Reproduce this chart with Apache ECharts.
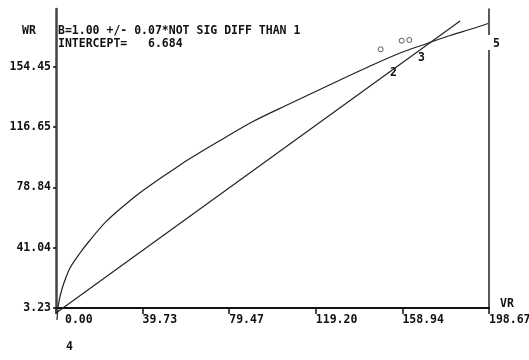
<!DOCTYPE html>
<html>
<head>
<meta charset="utf-8">
<script src="https://cdn.jsdelivr.net/npm/echarts@6/dist/echarts.min.js"></script>
<style>
html,body{margin:0;padding:0;background:#fff;}
#chart{width:529px;height:360px;}
</style>
</head>
<body>
<div id="chart"></div>
<script>
// ---- data ----
var xTickLabels = ['0.00', '39.73', '79.47', '119.20', '158.94', '198.67'];
var yTickLabels = ['3.23', '41.04', '78.84', '116.65', '154.45'];
var curveX = [0.46, 0.92, 1.61, 2.75, 4.13, 6.42, 10.69, 15.28, 22.94, 30.60, 38.22, 45.42, 53.54, 59.65, 75.25, 90.39, 105.53, 130.30, 142.69, 157.83, 170.22, 180.78, 191.33, 198.21];
var curveY = [-4.30, 3.23, 8.88, 15.15, 20.80, 28.33, 37.11, 45.27, 57.38, 66.79, 75.20, 82.29, 89.82, 95.47, 108.33, 120.25, 130.29, 146.29, 154.13, 163.24, 169.19, 174.21, 178.61, 181.75];
var fitX = [0, 185.4];
var fitY = [0.15, 183.3];
var obsX = [148.97, 158.61, 162.10];
var obsY = [165.56, 170.96, 171.40];
var titleLines = ['B=1.00 +/- 0.07*NOT SIG DIFF THAN 1', 'INTERCEPT=   6.684'];

function zip(a, b) { return a.map(function (v, i) { return [v, b[i]]; }); }
var xTickVals = xTickLabels.map(parseFloat);
var yTickVals = yTickLabels.map(parseFloat);

var FONT = 'DejaVu Sans Mono';
var TXT = 'bold 11.5px "DejaVu Sans Mono"';
var chart = echarts.init(document.getElementById('chart'));
chart.setOption({
  animation: false,
  backgroundColor: '#fff',
  title: {
    text: titleLines.join('\n'),
    left: 58, top: 25, padding: 0,
    textStyle: { fontFamily: FONT, fontSize: 11.5, fontWeight: 'bold', color: '#111', lineHeight: 13 }
  },
  grid: { left: 56, right: 40, top: 9, bottom: 52, containLabel: false, outerBoundsMode: 'none' },
  xAxis: {
    type: 'value', min: 0, max: 198.67,
    axisLine: { show: true, lineStyle: { color: '#111', width: 2 } },
    axisTick: { show: true, inside: false, length: 6, customValues: xTickVals, lineStyle: { color: '#111', width: 1.5 } },
    axisLabel: {
      show: true, customValues: xTickVals, margin: 6, align: 'left', hideOverlap: false,
      fontFamily: FONT, fontSize: 11.5, fontWeight: 'bold', color: '#111',
      formatter: function (v) {
        var i = xTickVals.indexOf(v);
        var s = i >= 0 ? xTickLabels[i] : '';
        return i === 0 ? '{p|' + s + '}' : s;
      },
      rich: { p: { fontFamily: FONT, fontSize: 11.5, fontWeight: 'bold', color: '#111', padding: [0, 0, 0, 9] } }
    },
    splitLine: { show: false }
  },
  yAxis: [{
    type: 'value', min: 3.23, max: 190.85,
    axisLine: { show: true, lineStyle: { color: '#444', width: 2.5 } },
    axisTick: { show: true, inside: false, length: 3, customValues: yTickVals, lineStyle: { color: '#111', width: 1.5 } },
    axisLabel: {
      show: true, customValues: yTickVals, margin: 5,
      fontFamily: FONT, fontSize: 11.5, fontWeight: 'bold', color: '#111',
      padding: [0, 0, 7, 0],
      formatter: function (v) {
        var i = yTickVals.indexOf(v);
        return i >= 0 ? yTickLabels[i] : '';
      }
    },
    splitLine: { show: false }
  }, {
    type: 'value', min: 3.23, max: 190.85, position: 'right',
    axisLine: { show: true, lineStyle: { color: '#222', width: 1.5 } },
    axisTick: { show: false }, axisLabel: { show: false }, splitLine: { show: false }
  }],
  series: [{
    type: 'line', data: zip(curveX, curveY), smooth: 0.3, showSymbol: false, clip: false,
    lineStyle: { color: '#222', width: 1.2 }
  }, {
    type: 'line', data: zip(fitX, fitY), showSymbol: false, clip: false,
    lineStyle: { color: '#222', width: 1.2 }
  }, {
    type: 'scatter', data: zip(obsX, obsY), symbol: 'circle', symbolSize: 5, z: 5,
    itemStyle: { color: '#fff', borderColor: '#333', borderWidth: 1 }
  }],
  graphic: [
    { type: 'text', z: 100, left: 22, top: 25, style: { text: 'WR', font: TXT, fill: '#111' } },
    { type: 'text', z: 100, left: 500, top: 298, style: { text: 'VR', font: TXT, fill: '#111' } },
    { type: 'text', z: 100, left: 390, top: 67, style: { text: '2', font: TXT, fill: '#111' } },
    { type: 'text', z: 100, left: 418, top: 52, style: { text: '3', font: TXT, fill: '#111' } },
    { type: 'text', z: 100, left: 66, top: 341, style: { text: '4', font: TXT, fill: '#111' } },
    { type: 'rect', z: 99, shape: { x: 486, y: 35, width: 6, height: 15 }, style: { fill: '#fff' } },
    { type: 'text', z: 100, left: 493, top: 38, style: { text: '5', font: TXT, fill: '#111' } }
  ]
});
</script>
</body>
</html>
